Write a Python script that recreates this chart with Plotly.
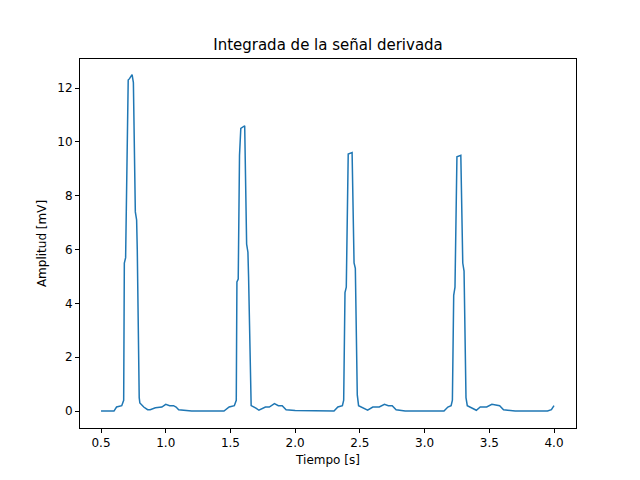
import plotly.graph_objects as go

tiempo = [0.50, 0.60, 0.62, 0.66, 0.675, 0.68, 0.69, 0.70, 0.71, 0.72, 0.74, 0.75, 0.765, 0.775, 0.78,
          0.795, 0.80, 0.83, 0.86, 0.88, 0.92, 0.97, 1.00, 1.03, 1.06, 1.08, 1.10, 1.20, 1.45,
          1.49, 1.53, 1.545, 1.55, 1.56, 1.57, 1.58, 1.60, 1.61, 1.625, 1.635, 1.64, 1.655, 1.66,
          1.70, 1.72, 1.77, 1.80, 1.84, 1.87, 1.90, 1.93, 2.00, 2.30,
          2.33, 2.365, 2.375, 2.385, 2.395, 2.405, 2.41, 2.44, 2.455, 2.465, 2.48, 2.49,
          2.53, 2.56, 2.60, 2.65, 2.69, 2.72, 2.75, 2.78, 2.85, 3.15,
          3.18, 3.205, 3.215, 3.225, 3.235, 3.245, 3.25, 3.28, 3.295, 3.305, 3.32, 3.33,
          3.37, 3.40, 3.43, 3.48, 3.52, 3.56, 3.58, 3.61, 3.70, 3.95, 3.98, 4.00]
amplitud = [0.0, 0.0, 0.15, 0.2, 0.4, 5.5, 5.7, 10.0, 12.3, 12.35, 12.5, 12.2, 7.4, 7.1, 6.0,
            0.5, 0.3, 0.15, 0.05, 0.05, 0.12, 0.15, 0.25, 0.2, 0.2, 0.15, 0.05, 0.0, 0.0,
            0.15, 0.2, 0.4, 4.8, 4.9, 9.5, 10.5, 10.55, 10.6, 6.2, 5.9, 5.0, 0.4, 0.2,
            0.1, 0.03, 0.15, 0.15, 0.28, 0.2, 0.2, 0.05, 0.02, 0.0,
            0.15, 0.2, 0.4, 4.4, 4.6, 9.5, 9.55, 9.6, 5.5, 5.3, 0.6, 0.2,
            0.1, 0.03, 0.15, 0.15, 0.25, 0.2, 0.2, 0.05, 0.0, 0.0,
            0.15, 0.2, 0.4, 4.3, 4.6, 9.4, 9.45, 9.5, 5.5, 5.2, 0.5, 0.2,
            0.1, 0.03, 0.15, 0.15, 0.25, 0.2, 0.2, 0.05, 0.0, 0.0, 0.05, 0.2]

fig = go.Figure()
fig.add_trace(go.Scatter(x=tiempo, y=amplitud, mode='lines',
                         line=dict(color='#1f77b4', width=1.5)))

axis_style = dict(showgrid=False, zeroline=False, showline=True, mirror=True,
                  linecolor='black', linewidth=1, ticks='outside', ticklen=4,
                  tickcolor='black', tickfont=dict(size=12, color='black'))

fig.update_layout(
    width=640, height=480,
    title=dict(text='Integrada de la señal derivada', x=0.5, xanchor='center',
               y=0.935, font=dict(size=15, color='black')),
    font=dict(family='DejaVu Sans', color='black'),
    plot_bgcolor='white', paper_bgcolor='white',
    showlegend=False,
    margin=dict(l=72, r=72, t=51, b=60),
    xaxis=dict(range=[0.3375, 4.17], tickvals=[0.5, 1.0, 1.5, 2.0, 2.5, 3.0, 3.5, 4.0],
               ticktext=['0.5', '1.0', '1.5', '2.0', '2.5', '3.0', '3.5', '4.0'],
               title=dict(text='Tiempo [s]', font=dict(size=12), standoff=6), **axis_style),
    yaxis=dict(range=[-0.63, 13.08], tickvals=[0, 2, 4, 6, 8, 10, 12],
               title=dict(text='Amplitud [mV]', font=dict(size=12), standoff=8), **axis_style),
)

fig.write_html("out.html")
